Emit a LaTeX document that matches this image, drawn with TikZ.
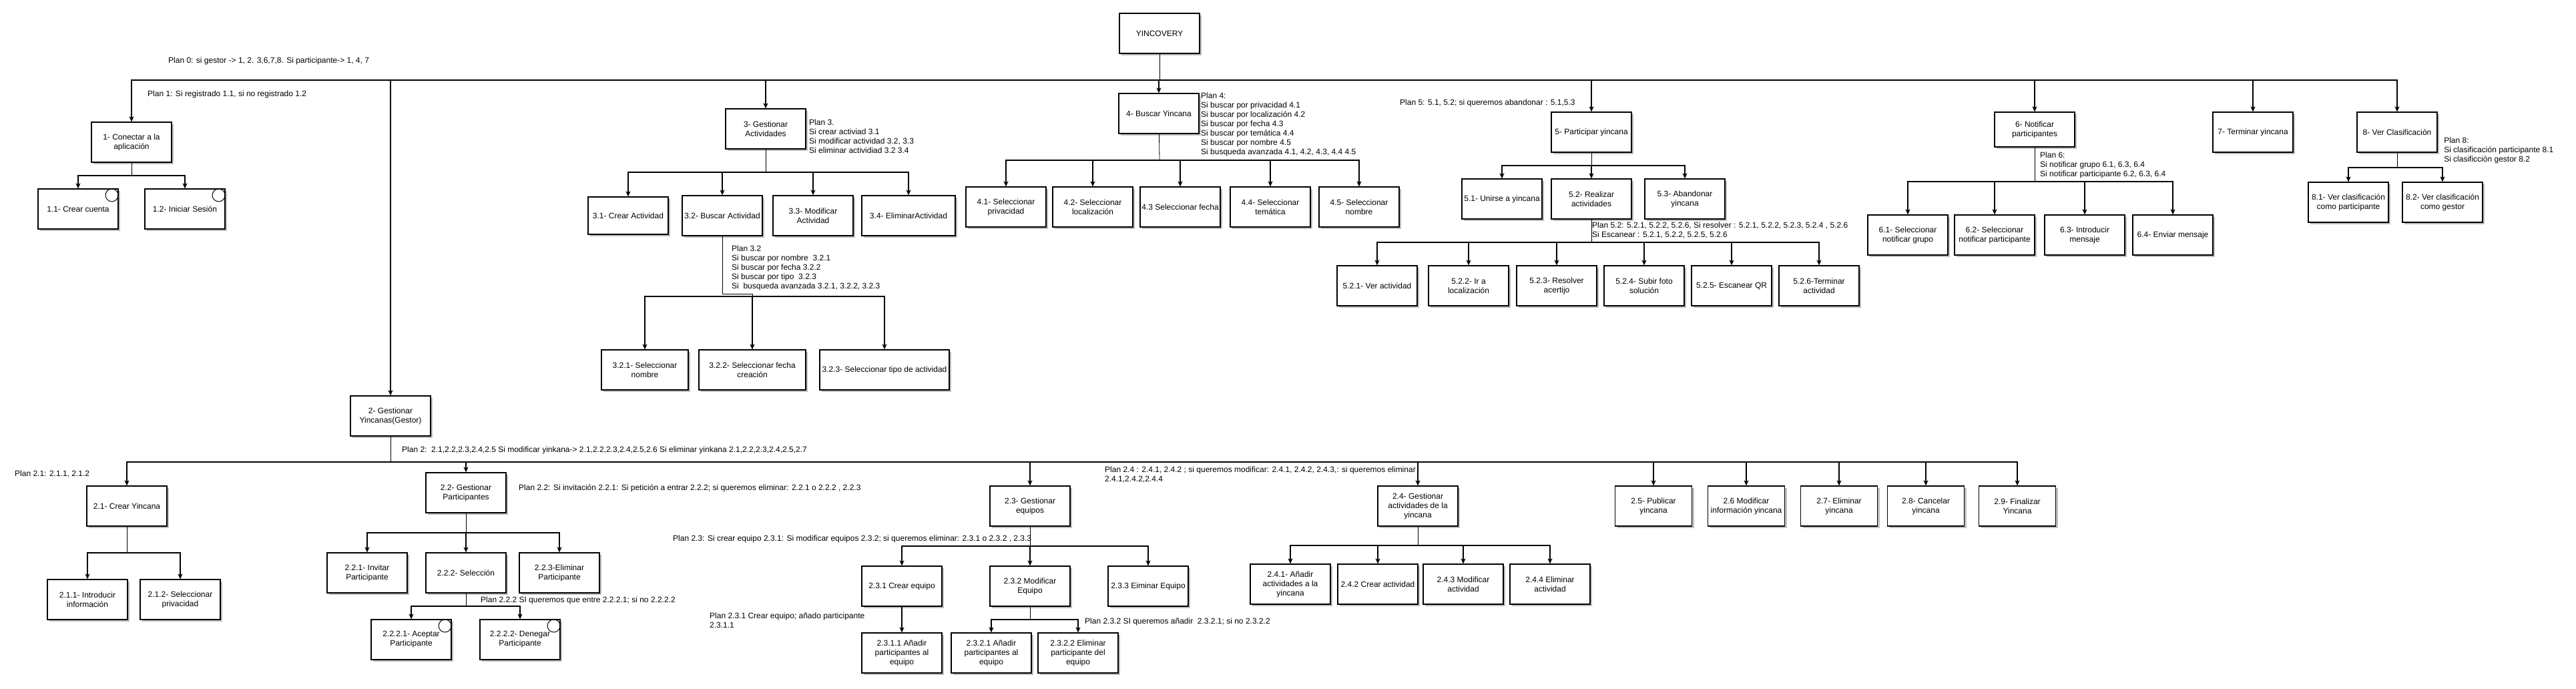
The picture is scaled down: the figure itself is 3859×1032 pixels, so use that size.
\documentclass[tikz,border=0pt]{standalone}
\usepackage{fontspec}
\setmainfont{Liberation Sans}
\usetikzlibrary{shadows,arrows.meta,calc}
\tikzset{
  task/.style={draw, line width=1.2pt, fill=white, minimum width=120pt, minimum height=60pt,
    inner sep=1pt, align=center, font=\fontsize{12}{14}\selectfont,
    drop shadow={shadow xshift=3pt, shadow yshift=-3pt, fill=black!25, opacity=1}},
  plan/.style={inner sep=0pt, align=left, font=\fontsize{12}{14}\selectfont},
  arr/.style={line width=1.1pt, -{Stealth[length=8pt,width=7pt,inset=2pt]}},
  stem/.style={line width=0.8pt},
  leaf/.style={draw, line width=1pt, circle, minimum size=19pt, inner sep=0pt}
}
\begin{document}
\begin{tikzpicture}[x=1pt,y=-1pt]
    \useasboundingbox (0,0) rectangle (3859,1032);
    % root and first level
    \node[task] (root) at (1737,50) {YINCOVERY};
    \node[task] (n1) at (197,213) {1- Conectar a la\\aplicación};
    \node[task] (n2) at (585,623) {2- Gestionar\\Yincanas(Gestor)};
    \node[task] (n3) at (1147,193) {3- Gestionar\\Actividades};
    \node[task] (n4) at (1736,170) {4- Buscar Yincana};
    \node[task] (n5) at (2384,198) {5- Participar yincana};
    \node[task, minimum height=52pt] (n6) at (3048,194) {6- Notificar\\participantes};
    \node[task] (n7) at (3375,198) {7- Terminar yincana};
    \node[task] (n8) at (3591,198) {8- Ver Clasificación};
    % plan 1
    \node[task] (n11) at (117,313) {1.1- Crear cuenta};
    \node[task] (n12) at (277,313) {1.2- Iniciar Sesión};
    % plan 3
    \node[task, minimum height=56pt] (n31) at (941,323) {3.1- Crear Actividad};
    \node[task] (n32) at (1082,323) {3.2- Buscar Actividad};
    \node[task] (n33) at (1218,323) {3.3- Modificar\\Actividad};
    \node[task, minimum width=140pt] (n34) at (1361,323) {3.4- EliminarActividad};
    \node[task, minimum width=130pt] (n321) at (966,554) {3.2.1- Seleccionar\\nombre};
    \node[task, minimum width=160pt] (n322) at (1127,554) {3.2.2- Seleccionar fecha\\creación};
    \node[task, minimum width=194pt] (n323) at (1325,554) {3.2.3- Seleccionar tipo de actividad};
    % plan 4
    \node[task] (n41) at (1507,310) {4.1- Seleccionar\\privacidad};
    \node[task] (n42) at (1637,310) {4.2- Seleccionar\\localización};
    \node[task] (n43) at (1768,310) {4.3 Seleccionar fecha};
    \node[task] (n44) at (1903,310) {4.4- Seleccionar\\temática};
    \node[task] (n45) at (2036,310) {4.5- Seleccionar\\nombre};
    % plan 5
    \node[task] (n51) at (2250,298) {5.1- Unirse a yincana};
    \node[task] (n52) at (2384,298) {5.2- Realizar\\actividades};
    \node[task] (n53) at (2524,298) {5.3- Abandonar\\yincana};
    \node[task] (n521) at (2063,428) {5.2.1- Ver actividad};
    \node[task] (n522) at (2200,428) {5.2.2- Ir a\\localización};
    \node[task] (n523) at (2332,428) {5.2.3- Resolver\\acertijo};
    \node[task] (n524) at (2463,428) {5.2.4- Subir foto\\solución};
    \node[task] (n525) at (2594,428) {5.2.5- Escanear QR};
    \node[task] (n526) at (2725,428) {5.2.6-Terminar\\actividad};
    % plan 6 and 8
    \node[task] (n61) at (2858,352) {6.1- Seleccionar\\notificar grupo};
    \node[task] (n62) at (2988,352) {6.2- Seleccionar\\notificar participante};
    \node[task] (n63) at (3123,352) {6.3- Introducir\\mensaje};
    \node[task] (n64) at (3255,352) {6.4- Enviar mensaje};
    \node[task] (n81) at (3518,303) {8.1- Ver clasificación\\como participante};
    \node[task] (n82) at (3659,303) {8.2- Ver clasificación\\como gestor};
    % plan 2
    \node[task] (n21) at (190,758) {2.1- Crear Yincana};
    \node[task] (n22) at (698,738) {2.2- Gestionar\\Participantes};
    \node[task] (n23) at (1543,758) {2.3- Gestionar\\equipos};
    \node[task] (n24) at (2124,758) {2.4- Gestionar\\actividades de la\\yincana};
    \node[task, minimum width=115pt] (n25) at (2477,758) {2.5- Publicar\\yincana};
    \node[task, minimum width=115pt] (n26) at (2616,758) {2.6 Modificar\\información yincana};
    \node[task, minimum width=115pt] (n27) at (2755,758) {2.7- Eliminar\\yincana};
    \node[task, minimum width=115pt] (n28) at (2885,758) {2.8- Cancelar\\yincana};
    \node[task, minimum width=115pt] (n29) at (3022,758) {2.9- Finalizar\\Yincana};
    \node[task] (n211) at (131,898) {2.1.1- Introducir\\información};
    \node[task] (n212) at (270,898) {2.1.2- Seleccionar\\privacidad};
    \node[task] (n221) at (550,858) {2.2.1- Invitar\\Participante};
    \node[task] (n222) at (698,858) {2.2.2- Selección};
    \node[task] (n223) at (838,858) {2.2.3-Eliminar\\Participante};
    \node[task] (n2221) at (616,958) {2.2.2.1- Aceptar\\Participante};
    \node[task] (n2222) at (779,958) {2.2.2.2- Denegar\\Participante};
    \node[task] (n231) at (1351,878) {2.3.1 Crear equipo};
    \node[task] (n232) at (1543,878) {2.3.2 Modificar\\Equipo};
    \node[task] (n233) at (1720,878) {2.3.3 Eiminar Equipo};
    \node[task] (n2311) at (1351,978) {2.3.1.1 Añadir\\participantes al\\equipo};
    \node[task] (n2321) at (1485,978) {2.3.2.1 Añadir\\participantes al\\equipo};
    \node[task] (n2322) at (1615,978) {2.3.2.2 Eliminar\\participante del\\equipo};
    \node[task] (n241) at (1933,875) {2.4.1- Añadir\\actividades a la\\yincana};
    \node[task] (n242) at (2064,875) {2.4.2 Crear actividad};
    \node[task] (n243) at (2192,875) {2.4.3 Modificar\\actividad};
    \node[task] (n244) at (2322,875) {2.4.4 Eliminar\\actividad};
    \foreach \t in {n11,n12,n2221,n2222}
        \node[leaf] (c\t) at ($(\t.north east)+(-10,10)$) {};
    % bars
    \coordinate (b0) at (1737,120);
    \coordinate (b1) at (197,263);
    \coordinate (b2) at (585,692);
    \coordinate (b3) at (1147,258);
    \coordinate (j32) at (1127,440);
    \coordinate (b32) at (1127,444);
    \coordinate (b4) at (1737,240);
    \coordinate (b5) at (2384,248);
    \coordinate (b52) at (2384,363);
    \coordinate (b6) at (3048,272);
    \coordinate (b8) at (3591,251);
    \coordinate (b21) at (190,828);
    \coordinate (b22) at (698,798);
    \coordinate (b222) at (698,908);
    \coordinate (b23) at (1543,818);
    \coordinate (b232) at (1543,928);
    \coordinate (b24) at (2124,817);
    \draw[stem] (root) -- (b0);
    \foreach \t in {n1,n2,n3,n4,n5,n6,n7,n8} \draw[arr] (b0) -| (\t.north);
    \draw[stem] (n1) -- (b1);
    \foreach \t in {n11,n12} \draw[arr] (b1) -| (\t.north);
    \draw[stem] (n3) -- (b3);
    \foreach \t in {n31,n32,n33,n34} \draw[arr] (b3) -| (\t.north);
    \draw[stem] (n32) |- (j32) -- (b32);
    \foreach \t in {n321,n322,n323} \draw[arr] (b32) -| (\t.north);
    \draw[stem] (n4) -- (b4);
    \foreach \t in {n41,n42,n43,n44,n45} \draw[arr] (b4) -| (\t.north);
    \draw[stem] (n5) -- (b5);
    \foreach \t in {n51,n52,n53} \draw[arr] (b5) -| (\t.north);
    \draw[stem] (n52) -- (b52);
    \foreach \t in {n521,n522,n523,n524,n525,n526} \draw[arr] (b52) -| (\t.north);
    \draw[stem] (n6) -- (b6);
    \foreach \t in {n61,n62,n63,n64} \draw[arr] (b6) -| (\t.north);
    \draw[stem] (n8) -- (b8);
    \foreach \t in {n81,n82} \draw[arr] (b8) -| (\t.north);
    \draw[stem] (n2) -- (b2);
    \foreach \t in {n21,n22,n23,n24,n25,n26,n27,n28,n29} \draw[arr] (b2) -| (\t.north);
    \draw[stem] (n21) -- (b21);
    \foreach \t in {n211,n212} \draw[arr] (b21) -| (\t.north);
    \draw[stem] (n22) -- (b22);
    \foreach \t in {n221,n222,n223} \draw[arr] (b22) -| (\t.north);
    \draw[stem] (n222) -- (b222);
    \foreach \t in {n2221,n2222} \draw[arr] (b222) -| (\t.north);
    \draw[stem] (n23) -- (b23);
    \foreach \t in {n231,n232,n233} \draw[arr] (b23) -| (\t.north);
    \draw[arr] (n231) -- (n2311);
    \draw[stem] (n232) -- (b232);
    \foreach \t in {n2321,n2322} \draw[arr] (b232) -| (\t.north);
    \draw[stem] (n24) -- (b24);
    \foreach \t in {n241,n242,n243,n244} \draw[arr] (b24) -| (\t.north);
    % plans
    \node[plan, anchor=west] (p0) at (252,91) {Plan 0: si gestor -> 1, 2. 3,6,7,8. Si participante-> 1, 4, 7};
    \node[plan, anchor=west] (p1) at (221,141) {Plan 1: Si registrado 1.1, si no registrado 1.2};
    \node[plan, anchor=north west] (p3) at (1212,178.5) {Plan 3.\\Si crear activiad 3.1\\Si modificar actividad 3.2, 3.3\\Si eliminar actividiad 3.2 3.4};
    \node[plan, anchor=north west] (p32) at (1096,367.5) {Plan 3.2\\Si buscar por nombre~~3.2.1\\Si buscar por fecha 3.2.2\\Si buscar por tipo~~3.2.3\\Si~~busqueda avanzada 3.2.1, 3.2.2, 3.2.3};
    \node[plan, anchor=north west] (p4) at (1799,138.5) {Plan 4:\\Si buscar por privacidad 4.1\\Si buscar por localización 4.2\\Si buscar por fecha 4.3\\Si buscar por temática 4.4\\Si buscar por nombre 4.5\\Si busqueda avanzada 4.1, 4.2, 4.3, 4.4 4.5};
    \node[plan, anchor=west] (p5) at (2097,154) {Plan 5: 5.1, 5.2; si queremos abandonar : 5.1,5.3};
    \node[plan, anchor=north west] (p52) at (2385,332.5) {Plan 5.2: 5.2.1, 5.2.2, 5.2.6, Si resolver : 5.2.1, 5.2.2, 5.2.3, 5.2.4 , 5.2.6\\Si Escanear : 5.2.1, 5.2.2, 5.2.5, 5.2.6};
    \node[plan, anchor=north west] (p6) at (3056,227.5) {Plan 6:\\Si notificar grupo 6.1, 6.3, 6.4\\Si notificar participante 6.2, 6.3, 6.4};
    \node[plan, anchor=north west] (p8) at (3661,205.5) {Plan 8:\\Si clasificación participante 8.1\\Si clasificción gestor 8.2};
    \node[plan, anchor=west] (p2) at (602,674) {Plan 2:~~2.1,2.2,2.3,2.4,2.5 Si modificar yinkana-> 2.1,2.2,2.3,2.4,2.5,2.6 Si eliminar yinkana 2.1,2.2,2.3,2.4,2.5,2.7};
    \node[plan, anchor=west] (p21) at (22,710) {Plan 2.1: 2.1.1, 2.1.2};
    \node[plan, anchor=west] (p22) at (777,731) {Plan 2.2: Si invitación 2.2.1: Si petición a entrar 2.2.2; si queremos eliminar: 2.2.1 o 2.2.2 , 2.2.3};
    \node[plan, anchor=west] (p222) at (720,899) {Plan 2.2.2 SI queremos que entre 2.2.2.1; si no 2.2.2.2};
    \node[plan, anchor=west] (p23) at (1008,807) {Plan 2.3: Si crear equipo 2.3.1: Si modificar equipos 2.3.2; si queremos eliminar: 2.3.1 o 2.3.2 , 2.3.3};
    \node[plan, anchor=north west] (p24) at (1655,698.5) {Plan 2.4 : 2.4.1, 2.4.2 ; si queremos modificar: 2.4.1, 2.4.2, 2.4.3,: si queremos eliminar\\2.4.1,2.4.2,2.4.4};
    \node[plan, anchor=north west] (p231) at (1063,917.5) {Plan 2.3.1 Crear equipo; añado participante\\2.3.1.1};
    \node[plan, anchor=west] (p232) at (1625,931) {Plan 2.3.2 SI queremos añadir~~2.3.2.1; si no 2.3.2.2};
\end{tikzpicture}
\end{document}
